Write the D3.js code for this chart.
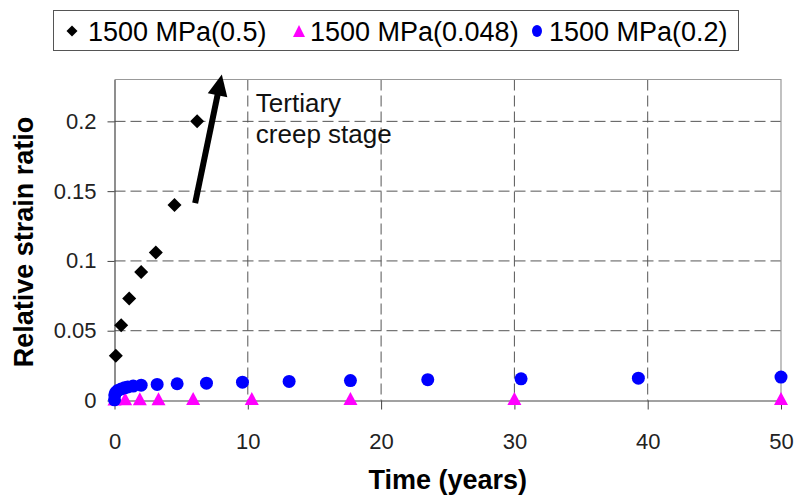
<!DOCTYPE html>
<html><head><meta charset="utf-8">
<script src="https://cdn.jsdelivr.net/npm/d3@7"></script>
<style>
body{margin:0;background:#fff}
svg{display:block;font-family:"Liberation Sans",Arial,Helvetica,sans-serif}
</style>
</head><body><svg id="c" width="796" height="498"></svg>
<script>
// ---------- data ----------
const seriesNames = ["1500 MPa(0.5)", "1500 MPa(0.048)", "1500 MPa(0.2)"];
const seriesColors = ["#000000", "#ff00ff", "#0000ff"];

const blackX = [0.1, 0.5, 1.1, 2.0, 3.1, 4.5, 6.2];
const blackY = [0.032, 0.054, 0.073, 0.092, 0.106, 0.140, 0.200];

const magentaX = [0, 0.8, 1.9, 3.3, 5.9, 10.3, 17.7, 30, 50];
const magentaY = [0.001, 0.0012, 0.0013, 0.0013, 0.0014, 0.0014, 0.0015, 0.0015, 0.0015];

const blueX = [0, 0.02, 0.1, 0.25, 0.5, 0.75, 1.0, 1.4, 2.0, 3.2, 4.7, 6.9, 9.6, 13.1, 17.7, 23.5, 30.5, 39.3, 50];
const blueY = [0.0005, 0.004, 0.0058, 0.0072, 0.0083, 0.0091, 0.0097, 0.0103, 0.0110, 0.0115, 0.0120, 0.0124, 0.0131, 0.0137, 0.0143, 0.0149, 0.0155, 0.0160, 0.0168];

const xTicks = [0, 10, 20, 30, 40, 50];
const yTicks = [0, 0.05, 0.1, 0.15, 0.2];
const yTickLabels = ["0", "0.05", "0.1", "0.15", "0.2"];
const xDomain = [0, 50];
const yDomain = [0, 0.23];

const xTitle = "Time (years)";
const yTitle = "Relative strain ratio";
const annotationLines = ["Tertiary", "creep stage"];
const annotationX = 10.6;
const annotationY = [0.207, 0.1842];
const arrowFrom = [6.05, 0.1415];
const arrowTo = [8.05, 0.2335];

// ---------- layout ----------
const svg = d3.select("#c");
const L = 114.5, R = 781, T = 79.5, B = 400.5;
const x = d3.scaleLinear().domain(xDomain).range([L, R]);
const y = d3.scaleLinear().domain(yDomain).range([B, T]);
const gridColor = "#555";

// plot background
svg.append("rect").attr("x", L).attr("y", T).attr("width", R - L).attr("height", B - T).attr("fill", "#fff");

// horizontal gridlines
svg.append("g").selectAll("line").data(yTicks.filter(d => d > 0)).join("line")
  .attr("x1", L).attr("x2", R).attr("y1", d => y(d)).attr("y2", d => y(d))
  .attr("stroke", gridColor).attr("stroke-width", 1).attr("stroke-dasharray", "11,5");

// vertical gridlines
svg.append("g").selectAll("line").data(xTicks.filter(d => d > xDomain[0] && d < xDomain[1])).join("line")
  .attr("x1", d => x(d)).attr("x2", d => x(d)).attr("y1", T).attr("y2", B)
  .attr("stroke", gridColor).attr("stroke-width", 1).attr("stroke-dasharray", "11,5");

// top & right border
svg.append("path").attr("d", `M${L},${T}H${R}V${B}`).attr("fill", "none").attr("stroke", "#999").attr("stroke-width", 1.2);

// axes
const yAxis = d3.axisLeft(y).tickValues(yTicks).tickFormat((d, i) => yTickLabels[i]).tickSize(7).tickPadding(11).tickSizeOuter(0);
const gy = svg.append("g").attr("transform", `translate(${L},0)`).call(yAxis);
const xAxis = d3.axisBottom(x).tickValues(xTicks).tickFormat(d3.format("d")).tickSize(9).tickPadding(24).tickSizeOuter(0);
const gx = svg.append("g").attr("transform", `translate(0,${B})`).call(xAxis);
[gx, gy].forEach(g => {
  g.select(".domain").attr("stroke", "#444").attr("stroke-width", 1.2);
  g.selectAll(".tick line").attr("stroke", "#444").attr("stroke-width", 1);
  g.selectAll(".tick text").attr("font-size", 22).attr("fill", "#222")
    .attr("font-family", '"Liberation Sans",Arial,sans-serif');
});

// markers
const diamondPath = s => `M0,${-s}L${s},0L0,${s}L${-s},0Z`;
const trianglePath = (w, h) => `M0,${-h / 2}L${w / 2},${h / 2}L${-w / 2},${h / 2}Z`;

const gm = svg.append("g");
gm.selectAll("path.dia").data(blackX.map((d, i) => [d, blackY[i]])).join("path")
  .attr("class", "dia").attr("d", diamondPath(7))
  .attr("transform", d => `translate(${x(d[0])},${y(d[1])})`).attr("fill", seriesColors[0]);
gm.selectAll("path.tri").data(magentaX.map((d, i) => [d, magentaY[i]])).join("path")
  .attr("class", "tri").attr("d", trianglePath(14, 13))
  .attr("transform", d => `translate(${x(d[0])},${y(d[1])})`).attr("fill", seriesColors[1]);
gm.selectAll("circle").data(blueX.map((d, i) => [d, blueY[i]])).join("circle")
  .attr("cx", d => x(d[0])).attr("cy", d => y(d[1])).attr("r", 6.5).attr("fill", seriesColors[2]);

// arrow annotation
const ax0 = x(arrowFrom[0]), ay0 = y(arrowFrom[1]), ax1 = x(arrowTo[0]), ay1 = y(arrowTo[1]);
const len = Math.hypot(ax1 - ax0, ay1 - ay0), ux = (ax1 - ax0) / len, uy = (ay1 - ay0) / len;
const headL = 21, headW = 10;
const bx = ax1 - ux * headL, by = ay1 - uy * headL;
svg.append("line").attr("x1", ax0).attr("y1", ay0).attr("x2", bx + ux * 2).attr("y2", by + uy * 2)
  .attr("stroke", "#000").attr("stroke-width", 6);
svg.append("path")
  .attr("d", `M${ax1},${ay1}L${bx - uy * headW},${by + ux * headW}L${bx + uy * headW},${by - ux * headW}Z`)
  .attr("fill", "#000");

svg.append("g").selectAll("text").data(annotationLines).join("text")
  .attr("x", x(annotationX)).attr("y", (d, i) => y(annotationY[i]))
  .attr("font-size", 26).attr("fill", "#111").text(d => d);

// axis titles
svg.append("text").attr("x", (L + R) / 2).attr("y", 489).attr("text-anchor", "middle")
  .attr("font-size", 27).attr("font-weight", "bold").attr("fill", "#000").text(xTitle);
svg.append("text").attr("transform", `translate(33,${(T + B) / 2 + 2}) rotate(-90)`).attr("text-anchor", "middle")
  .attr("font-size", 27).attr("font-weight", "bold").attr("fill", "#000").text(yTitle);

// legend
const lg = svg.append("g");
lg.append("rect").attr("x", 53.5).attr("y", 10.5).attr("width", 685).attr("height", 40)
  .attr("fill", "#fff").attr("stroke", "#555").attr("stroke-width", 1);
const legMarkerX = [72, 299, 537];
const legTextX = [88, 310, 549];
seriesNames.forEach((name, i) => {
  const mx = legMarkerX[i], my = 31;
  if (i === 0) lg.append("path").attr("d", diamondPath(5.5)).attr("transform", `translate(${mx},${my})`).attr("fill", seriesColors[0]);
  if (i === 1) lg.append("path").attr("d", trianglePath(12, 12)).attr("transform", `translate(${mx},${my})`).attr("fill", seriesColors[1]);
  if (i === 2) lg.append("ellipse").attr("cx", mx).attr("cy", my).attr("rx", 5).attr("ry", 6).attr("fill", seriesColors[2]);
  lg.append("text").attr("x", legTextX[i]).attr("y", 41).attr("font-size", 27).attr("fill", "#000").text(name);
});
</script>
</body></html>
